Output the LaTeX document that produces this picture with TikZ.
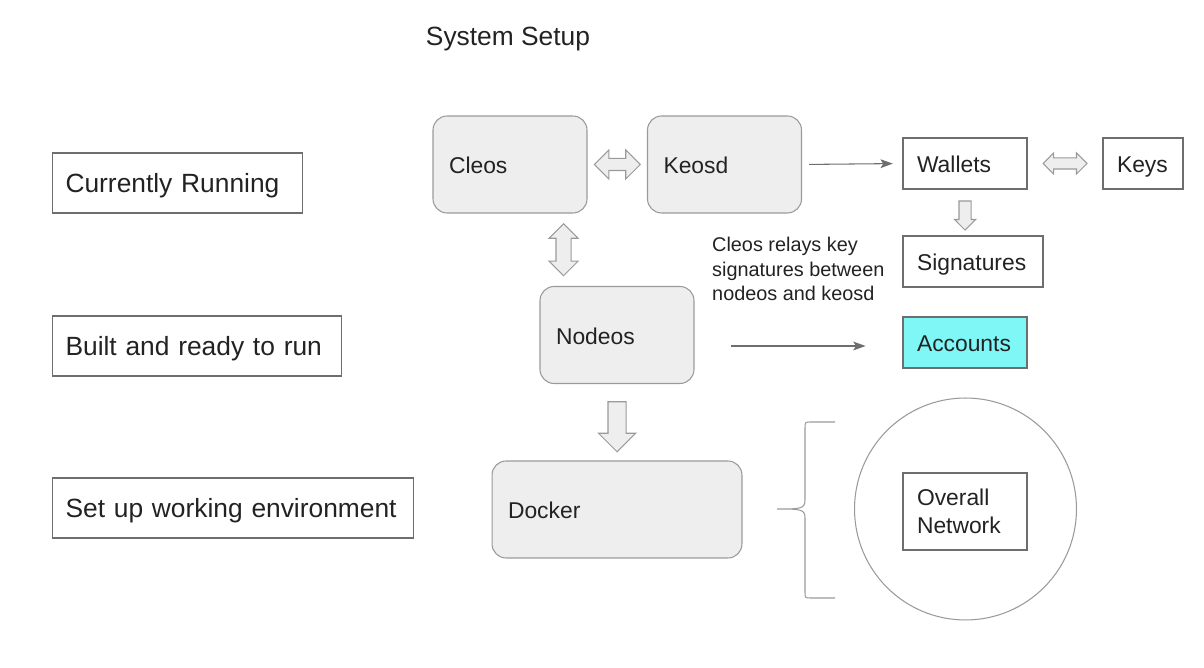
\documentclass[tikz,border=0pt]{standalone}
\usepackage{fontspec}
\setmainfont{Liberation Sans}
\usepackage{xcolor}
\usepackage{tikz}
\usetikzlibrary{calc, shapes.arrows, arrows.meta}
\definecolor{boxgray}{HTML}{EEEEEE}
\definecolor{edgegray}{HTML}{9A9A9A}
\definecolor{linegray}{HTML}{6E6E6E}
\definecolor{acccyan}{HTML}{80F7F7}
\definecolor{txt}{HTML}{222222}

\begin{document}
\begin{tikzpicture}[x=0.02cm,y=-0.02cm,every node/.append style={text=txt}]
% styles
\tikzset{
  gbox/.style={draw=edgegray, fill=boxgray, rounded corners=8pt, line width=0.6pt,
    text height=13pt, text depth=2.6pt,
    inner xsep=0.32cm, align=left, minimum height=1.94cm, font=\fontsize{13}{16}\selectfont},
  wbox/.style={draw=linegray, line width=0.6pt, inner xsep=0.28cm, align=left,
    text height=13pt, text depth=2.6pt,
    minimum height=1.02cm, font=\fontsize{13}{16}\selectfont},
  lbox/.style={draw=linegray, line width=0.6pt, inner xsep=0.26cm, align=left,
    text height=13.5pt, text depth=3pt,
    minimum height=1.2cm, anchor=west, font=\fontsize{15}{18}\selectfont},
  hollow/.style={draw=edgegray, fill=boxgray, line width=0.6pt, inner xsep=0pt},
  thinarrow/.style={draw=linegray, line width=0.6pt, -{Stealth[length=7pt,width=5pt,inset=1.5pt]}},
}
\useasboundingbox (0,0) rectangle (1204,668);
% title
\node[anchor=base, font=\fontsize{15}{18}\selectfont] (title) at (508,46) {System Setup};
% the stages on the left
\foreach \n/\y/\w/\t in {run/183/4.48/Currently Running,built/346/5.26/Built and ready to run,env/508/6.7/Set up working environment} {
  \node[lbox, text width=\w cm] (\n) at (52,\y) {\t};
}
% the programs
\node[gbox, text width=2.44cm] (cleos) at (510,164.5) {Cleos};
\node[gbox, text width=2.44cm] (keosd) at (724.5,164.5) {Keosd};
\node[gbox, text width=2.44cm] (nodeos) at (617,335) {Nodeos};
\node[gbox, text width=4.36cm] (docker) at (617,509.5) {Docker};
% keys and accounts
\node[wbox, text width=1.92cm] (wallets) at (965,163.5) {Wallets};
\node[wbox, text width=1.04cm] (keys) at (1143,163.5) {Keys};
\node[wbox, text width=2.24cm] (sigs) at (973,261.5) {Signatures};
\node[wbox, text width=1.92cm, fill=acccyan] (accounts) at (965,342.5) {Accounts};
% the note
\node[anchor=west, align=left, font=\fontsize{11.3}{14}\selectfont] (note) at (706,269)
  {Cleos relays key\\signatures between\\nodeos and keosd};
% network
\node[circle, draw=edgegray, line width=0.6pt, minimum size=4.44cm] (net) at (965.5,509) {};
\node[wbox, text width=1.92cm, minimum height=1.54cm, text height={}, text depth={}] (overall)
  at (965,511.5) {Overall\\Network};
% hollow arrows
\node[hollow, double arrow, double arrow head extend=0.17cm, inner ysep=0.11cm,
  minimum height=0.92cm] (ck) at ($(cleos.east)!0.5!(keosd.west)$) {};
\node[hollow, double arrow, rotate=90, double arrow head extend=0.14cm, inner ysep=0.14cm,
  minimum height=1.04cm] (cn) at ($(cleos.south east)!0.5!(nodeos.north west)$) {};
\node[hollow, double arrow, double arrow head extend=0.1cm, inner ysep=0.1cm,
  minimum height=0.88cm] (wk) at ($(wallets.east)!0.5!(keys.west)$) {};
\node[hollow, single arrow, rotate=-90, single arrow head extend=0.09cm, inner ysep=0.11cm,
  minimum height=0.58cm] (ws) at ($(wallets.south)!0.5!(wallets.south |- sigs.north)$) {};
\node[hollow, single arrow, rotate=-90, single arrow head extend=0.19cm, inner ysep=0.17cm,
  minimum height=1.0cm] (nd) at ($(nodeos.south)!0.5!(docker.north)$) {};
% thin arrows
\draw[thinarrow, shorten <=4pt, shorten >=5.5pt] (keosd.east) -- (wallets.west);
\draw[thinarrow, shorten <=21pt, shorten >=21pt] ($(nodeos.east |- accounts.west)+(0,3.5)$)
  -- ($(accounts.west)+(0,3.5)$);
% brace
\draw[edgegray, line width=0.6pt] (835,422) -- (811,422) .. controls (805,422) .. (805,428)
  -- (805,500) .. controls (805,509) and (800,509) .. (777,509)
  .. controls (800,509) and (805,509) .. (805,518) -- (805,592)
  .. controls (805,598) .. (811,598) -- (835,598);
\end{tikzpicture}
\end{document}
